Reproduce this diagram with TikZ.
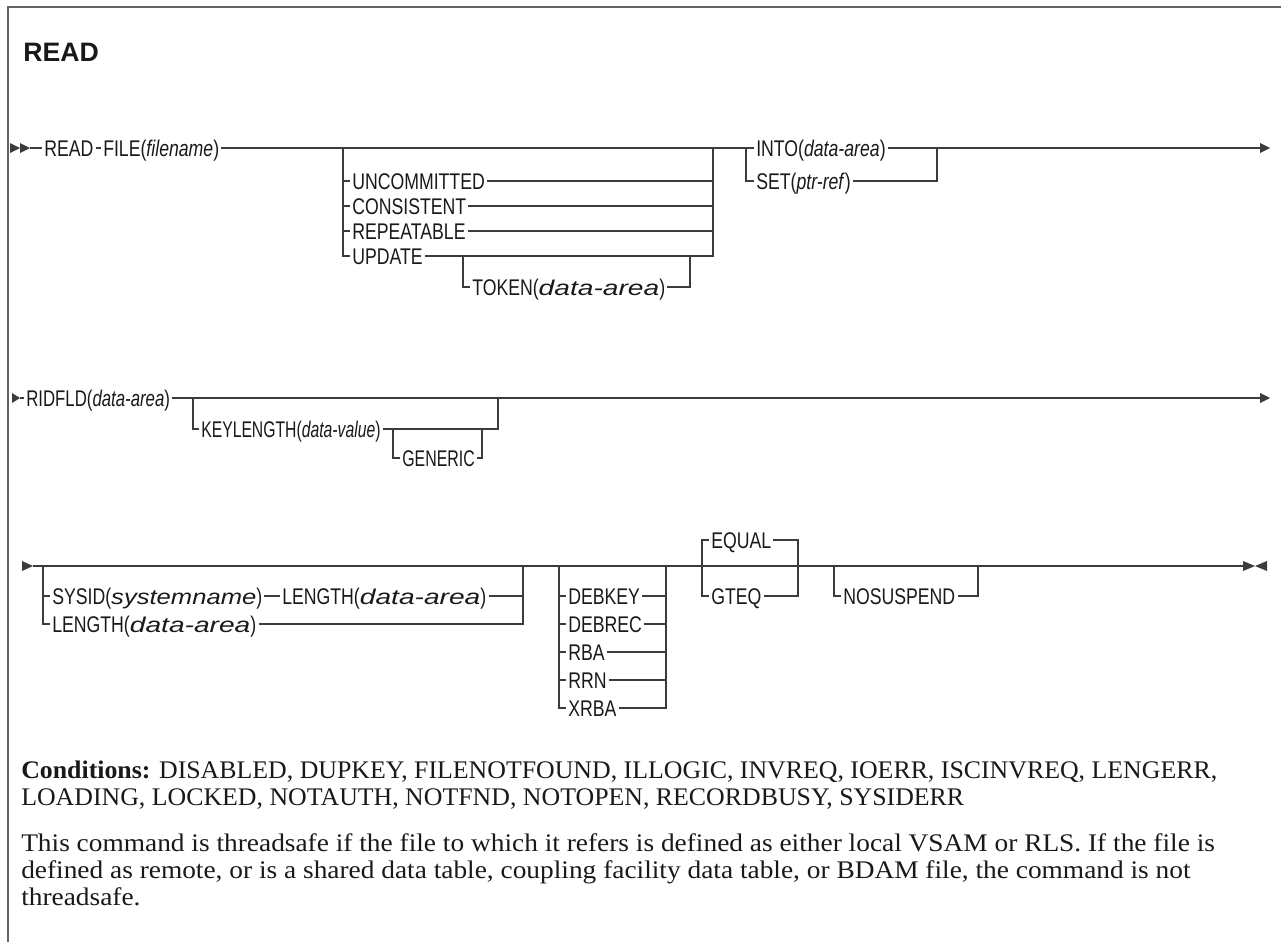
\documentclass[tikz,border=0pt]{standalone}
\usepackage{graphicx}
\usepackage{fontspec}
\setmainfont{Liberation Serif}
\newfontfamily\synfont[FakeStretch=0.78]{Liberation Sans}
\newfontfamily\synwide[FakeStretch=1.2]{Liberation Sans}
\newfontfamily\synwider[FakeStretch=1.32]{Liberation Sans}
\newfontfamily\titlefont{Liberation Sans}
\newfontfamily\condfont[FakeStretch=1.02]{Liberation Serif}
\newfontfamily\thrfont[FakeStretch=1.08]{Liberation Serif}
\newcommand{\hsc}[2]{\scalebox{#1}[1]{#2}}
\newcommand{\wit}[1]{{\synwide\itshape\fontsize{16pt}{19pt}\selectfont #1}}
\newcommand{\witr}[1]{{\synwider\itshape\fontsize{16pt}{19pt}\selectfont #1}}
\definecolor{lnc}{RGB}{60,60,60}
\definecolor{txc}{RGB}{25,25,25}
\tikzset{
  syn/.style={font=\synfont\fontsize{17pt}{19pt}\selectfont, inner xsep=1.5pt, inner ysep=0pt, text height=12.2pt, text depth=0pt, anchor=west, text=txc},
  conn/.style={draw=lnc, line width=0.95pt},
  tipc/.style={fill=lnc, draw=none},
  body/.style={inner sep=0pt, text height=12.6pt, text depth=0pt, anchor=west, text=txc},
  ttl/.style={font=\titlefont\bfseries\fontsize{20pt}{24pt}\selectfont, inner sep=0pt, text height=14.3pt, text depth=0pt, anchor=west, text=txc},
  framec/.style={draw=lnc!80, line width=1.3pt}
}
\begin{document}
\begin{tikzpicture}[x=0.75pt,y=-0.75pt]
\useasboundingbox (0,0) rectangle (1281,942);
\draw[framec] (8,942) -- (8,7) -- (1281,7);
\node[ttl] (title) at (23,52) {READ};
% ---------- Row 1
\fill[tipc] (10,143) -- (20,148) -- (10,153) -- cycle;
\fill[tipc] (20,143) -- (30,148) -- (20,153) -- cycle;
\coordinate (s1) at (30,148);
\node[syn] (read) at (42,148) {READ};
\node[syn] (file) at (101,148) {FILE(\textit{filename})};
\node[syn] (into) at (754,148) {INTO(\textit{data-area})};
\coordinate (e1) at (1260,148);
\fill[tipc] (1260,143) -- (1270,148) -- (1260,153) -- cycle;
\draw[conn] (s1) -- (read.west);
\draw[conn] (read.east) -- (file.west);
\draw[conn] (file.east) -- (into.west);
\draw[conn] (into.east) -- (e1);
\coordinate (aL) at (343,148);
\coordinate (aR) at (713,148);
\node[syn] (unc) at (350,181) {UNCOMMITTED};
\node[syn] (con) at (350,206) {CONSISTENT};
\node[syn] (rep) at (350,231) {REPEATABLE};
\node[syn] (upd) at (350,256) {UPDATE};
\draw[conn] (aL) |- (upd.west);
\draw[conn] (aL |- unc) -- (unc.west);
\draw[conn] (aL |- con) -- (con.west);
\draw[conn] (aL |- rep) -- (rep.west);
\draw[conn] (unc.east) -| (aR);
\draw[conn] (con.east) -- (aR |- con);
\draw[conn] (rep.east) -- (aR |- rep);
\draw[conn] (upd.east) -| (aR);
\coordinate (tL) at (463,256);
\coordinate (tR) at (690,256);
\node[syn] (tok) at (470,287) {TOKEN(\witr{data-area})};
\draw[conn] (tL) |- (tok.west);
\draw[conn] (tok.east) -| (tR);
\coordinate (iL) at (746,148);
\coordinate (iR) at (937,148);
\node[syn] (set) at (754,181) {SET(\textit{ptr-ref})};
\draw[conn] (iL) |- (set.west);
\draw[conn] (set.east) -| (iR);
% ---------- Row 2
\fill[tipc] (12,393) -- (20,398) -- (12,403) -- cycle;
\coordinate (s2) at (20,398);
\node[syn] (rid) at (24,398) {\hsc{0.95}{RIDFLD(\textit{data-area})}};
\coordinate (e2) at (1260,398);
\fill[tipc] (1260,393) -- (1270,398) -- (1260,403) -- cycle;
\draw[conn] (s2) -- (rid.west);
\draw[conn] (rid.east) -- (e2);
\coordinate (kL) at (193,398);
\coordinate (kR) at (498,398);
\node[syn] (key) at (199,429) {\hsc{0.89}{KEYLENGTH(\textit{data-value})}};
\draw[conn] (kL) |- (key.west);
\draw[conn] (key.east) -| (kR);
\coordinate (gL) at (393,429);
\coordinate (gR) at (482,429);
\node[syn] (gen) at (400,458) {\hsc{0.9}{GENERIC}};
\draw[conn] (gL) |- (gen.west);
\draw[conn] (gen.east) -| (gR);
% ---------- Row 3
\fill[tipc] (22,561) -- (33,566) -- (22,571) -- cycle;
\coordinate (s3) at (33,566);
\coordinate (e3) at (1243,566);
\draw[conn] (s3) -- (e3);
\fill[tipc] (1243,561) -- (1255,566) -- (1243,571) -- cycle;
\fill[tipc] (1267,561) -- (1255,566) -- (1267,571) -- cycle;
\coordinate (yL) at (43,566);
\coordinate (yR) at (523,566);
\node[syn] (sys) at (50,596) {SYSID(\wit{systemname})};
\node[syn] (len1) at (280,596) {LENGTH(\witr{data-area})};
\node[syn] (len2) at (50,624) {LENGTH(\witr{data-area})};
\draw[conn] (yL) |- (len2.west);
\draw[conn] (yL |- sys) -- (sys.west);
\draw[conn] (sys.east) -- (len1.west);
\draw[conn] (len1.east) -| (yR);
\draw[conn] (len2.east) -| (yR);
\coordinate (dL) at (559,566);
\coordinate (dR) at (666,566);
\node[syn] (dk) at (566,596) {DEBKEY};
\node[syn] (dr) at (566,624) {DEBREC};
\node[syn] (rba) at (566,652) {RBA};
\node[syn] (rrn) at (566,680) {RRN};
\node[syn] (xrba) at (566,708) {XRBA};
\draw[conn] (dL) |- (xrba.west);
\draw[conn] (dL |- dk) -- (dk.west);
\draw[conn] (dL |- dr) -- (dr.west);
\draw[conn] (dL |- rba) -- (rba.west);
\draw[conn] (dL |- rrn) -- (rrn.west);
\draw[conn] (xrba.east) -| (dR);
\draw[conn] (dk.east) -- (dR |- dk);
\draw[conn] (dr.east) -- (dR |- dr);
\draw[conn] (rba.east) -- (dR |- rba);
\draw[conn] (rrn.east) -- (dR |- rrn);
\coordinate (qL) at (702,566);
\coordinate (qR) at (798,566);
\node[syn] (eq) at (709,540) {EQUAL};
\node[syn] (gt) at (709,596) {GTEQ};
\draw[conn] (qL) |- (eq.west);
\draw[conn] (eq.east) -| (qR);
\draw[conn] (qL) |- (gt.west);
\draw[conn] (gt.east) -| (qR);
\coordinate (nL) at (834,566);
\coordinate (nR) at (978,566);
\node[syn] (nos) at (841,596) {NOSUSPEND};
\draw[conn] (nL) |- (nos.west);
\draw[conn] (nos.east) -| (nR);
% ---------- Text
\node[body, font=\condfont\fontsize{19pt}{23pt}\selectfont] (c1) at (21,770) {\textbf{Conditions:} DISABLED, DUPKEY, FILENOTFOUND, ILLOGIC, INVREQ, IOERR, ISCINVREQ, LENGERR,};
\node[body, font=\condfont\fontsize{19pt}{23pt}\selectfont] (c2) at (21,797) {LOADING, LOCKED, NOTAUTH, NOTFND, NOTOPEN, RECORDBUSY, SYSIDERR};
\node[body, font=\thrfont\fontsize{19pt}{23pt}\selectfont] (t1) at (21,843) {This command is threadsafe if the file to which it refers is defined as either local VSAM or RLS. If the file is};
\node[body, font=\thrfont\fontsize{19pt}{23pt}\selectfont] (t2) at (21,870) {defined as remote, or is a shared data table, coupling facility data table, or BDAM file, the command is not};
\node[body, font=\thrfont\fontsize{19pt}{23pt}\selectfont] (t3) at (21,897) {threadsafe.};
\end{tikzpicture}
\end{document}
